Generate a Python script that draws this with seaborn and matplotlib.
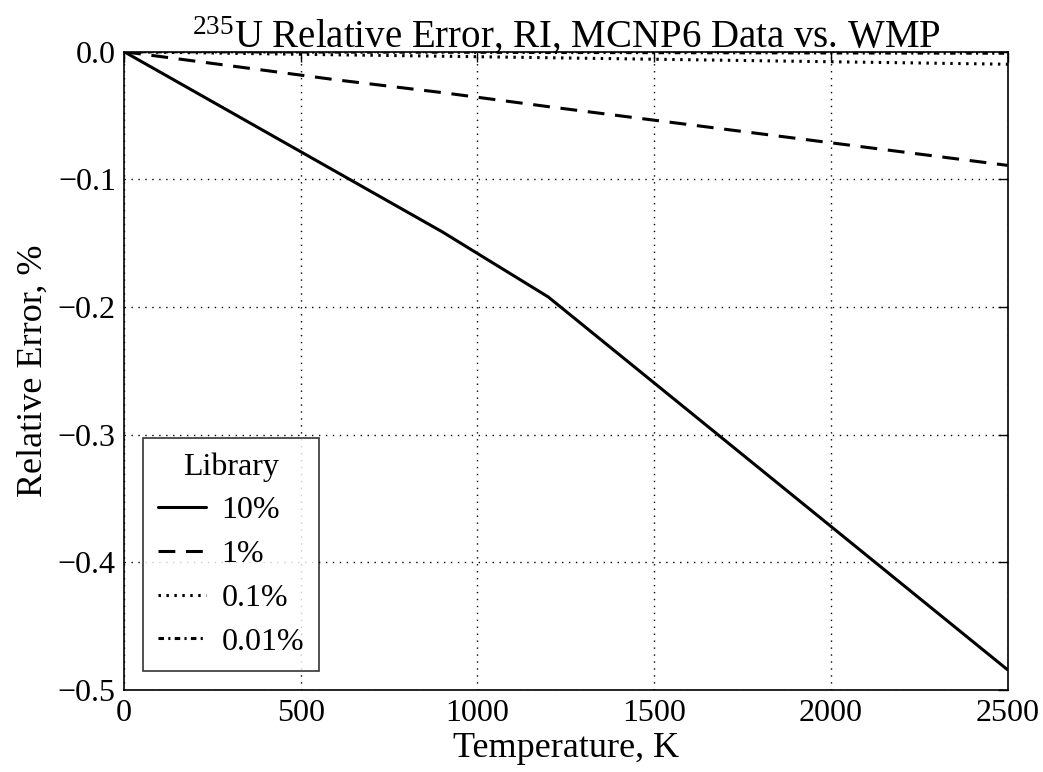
import numpy as np
import pandas as pd
import matplotlib
matplotlib.use("Agg")
import matplotlib.pyplot as plt
import seaborn as sns

# temperatures (K) and relative error (%) per library tolerance
temps = [0, 300, 600, 900, 1200, 2500]
err_10 = [0.0, -0.047, -0.094, -0.141, -0.192, -0.484]
err_1 = [0.0, -0.011, -0.022, -0.032, -0.043, -0.089]
err_01 = [0.0, -0.0012, -0.0024, -0.0035, -0.0047, -0.0098]
err_001 = [0.0, -0.0001, -0.0003, -0.0004, -0.0006, -0.0012]
libraries = ["10%", "1%", "0.1%", "0.01%"]

sns.set_style("white")
plt.rcParams["font.family"] = ["Liberation Serif", "DejaVu Serif"]
plt.rcParams["mathtext.fontset"] = "custom"
plt.rcParams["mathtext.rm"] = "Liberation Serif"
plt.rcParams["mathtext.it"] = "Liberation Serif:italic"
for key in ["text.color", "axes.labelcolor", "xtick.color", "ytick.color"]:
    plt.rcParams[key] = "black"

frames = []
for lib, vals in zip(libraries, [err_10, err_1, err_01, err_001]):
    frames.append(pd.DataFrame({"Temperature": temps, "Error": vals, "Library": lib}))
df = pd.concat(frames, ignore_index=True)

dashes = {"10%": "", "1%": (5.5, 3.5), "0.1%": (0.8, 1.8), "0.01%": (1.8, 1.4, 0.7, 1.4)}

fig = plt.figure(figsize=(10.43, 7.72), dpi=100)
ax = fig.add_axes([0.119, 0.106, 0.847, 0.827])
sns.lineplot(data=df, x="Temperature", y="Error", style="Library", dashes=dashes,
             color="black", linewidth=2.2, ax=ax, sort=False)

ax.set_xlim(0, 2500)
ax.set_ylim(-0.5, 0)
ax.set_xticks([0, 500, 1000, 1500, 2000, 2500])
ax.set_yticks([-0.5, -0.4, -0.3, -0.2, -0.1, 0.0])
ax.yaxis.set_major_formatter(matplotlib.ticker.FuncFormatter(
    lambda v, p: f"{v:.1f}".replace("-", "\u2212")))
ax.grid(True, color="black", linestyle=(0, (1, 4)), linewidth=1.0)
ax.tick_params(direction="in", length=7, width=1, top=True, right=True,
               labelsize=23, pad=6)
for s in ax.spines.values():
    s.set_color("black")
    s.set_linewidth(1.2)

ax.set_xlabel("Temperature, K", fontsize=26, labelpad=3)
ax.set_ylabel("Relative Error, %", fontsize=26, labelpad=6)
ax.set_title(r"$^{235}$U Relative Error, RI, MCNP6 Data vs. WMP", fontsize=28, pad=3)

handles, labels = ax.get_legend_handles_labels()
leg = ax.legend(handles, labels, title="Library", loc="lower left", fontsize=23,
                title_fontsize=23, frameon=True, fancybox=False, handlelength=1.5,
                handletextpad=0.5, borderaxespad=0.6, labelspacing=0.45,
                borderpad=0.45)
leg.get_frame().set_edgecolor("black")
leg.get_frame().set_linewidth(1.2)

fig.savefig("out.png", dpi=100)
